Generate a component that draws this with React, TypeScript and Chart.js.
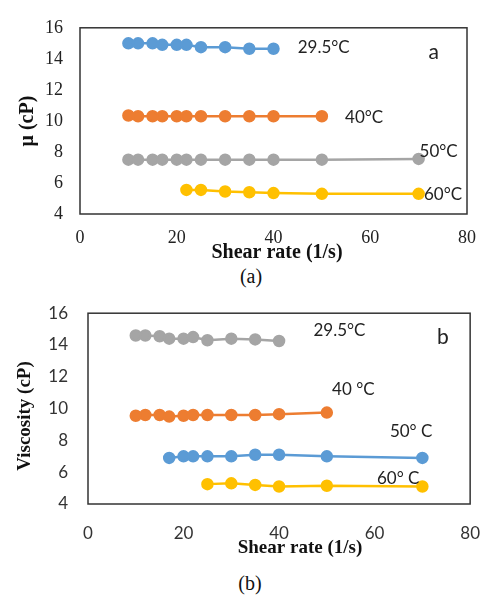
import React, { useEffect, useRef } from "react";
import { Chart, registerables } from "chart.js";

Chart.register(...registerables);

// ---------- Data: panel (a) ----------
const shearA29 = [10, 12, 15, 17, 20, 22, 25, 30, 35, 40];
const muA29 = [15.0, 15.0, 15.0, 14.9, 14.9, 14.9, 14.75, 14.75, 14.65, 14.65];
const shearA40 = [10, 12, 15, 17, 20, 22, 25, 30, 35, 40, 50];
const muA40 = [10.35, 10.3, 10.3, 10.3, 10.3, 10.3, 10.3, 10.3, 10.3, 10.3, 10.3];
const shearA50 = [10, 12, 15, 17, 20, 22, 25, 30, 35, 40, 50, 70];
const muA50 = [7.5, 7.5, 7.5, 7.5, 7.5, 7.5, 7.5, 7.5, 7.5, 7.5, 7.5, 7.55];
const shearA60 = [22, 25, 30, 35, 40, 50, 70];
const muA60 = [5.55, 5.55, 5.45, 5.4, 5.35, 5.3, 5.3];

// ---------- Data: panel (b) ----------
const shearB29 = [10, 12, 15, 17, 20, 22, 25, 30, 35, 40];
const viscB29 = [14.6, 14.6, 14.55, 14.4, 14.4, 14.5, 14.3, 14.4, 14.35, 14.25];
const shearB40 = [10, 12, 15, 17, 20, 22, 25, 30, 35, 40, 50];
const viscB40 = [9.55, 9.6, 9.6, 9.5, 9.55, 9.6, 9.6, 9.6, 9.6, 9.65, 9.75];
const shearB50 = [17, 20, 22, 25, 30, 35, 40, 50, 70];
const viscB50 = [6.9, 7.0, 7.0, 7.0, 7.0, 7.1, 7.1, 7.0, 6.9];
const shearB60 = [25, 30, 35, 40, 50, 70];
const viscB60 = [5.25, 5.3, 5.2, 5.1, 5.15, 5.1];

// ---------- Labels ----------
const xTitle = "Shear rate (1/s)";
const yTitleA = "\u03bc (cP)";
const yTitleB = "Viscosity (cP)";
const seriesLabelsA = ["29.5°C", "40°C", "50°C", "60°C"];
const seriesLabelsB = ["29.5°C", "40 °C", "50° C", "60° C"];

const BLUE = "#5B9BD5";
const ORANGE = "#ED7D31";
const GRAY = "#A5A5A5";
const YELLOW = "#FFC000";

const SERIF = "'Liberation Serif', 'Times New Roman', serif";
const SANS = "Lato, 'Liberation Sans', sans-serif";

function toXY(xs: number[], ys: number[]) {
  return xs.map((x, i) => ({ x, y: ys[i] }));
}

function ds(label: string, xs: number[], ys: number[], color: string) {
  return {
    label,
    data: toXY(xs, ys),
    borderColor: color,
    backgroundColor: color,
    pointBackgroundColor: color,
    pointBorderColor: color,
    pointRadius: 5,
    pointHoverRadius: 5,
    borderWidth: 2.5,
    tension: 0,
    showLine: true,
  };
}

type Note = { text: string; x: number; y: number; font: string; align: CanvasTextAlign };
type Title = { text: string; x: number; y: number; font: string; rot: number };

function makeDeco(notes: Note[], titles: Title[]) {
  return {
    id: "deco",
    afterDraw(chart: any) {
      const { ctx, chartArea: a, scales } = chart;
      ctx.save();
      ctx.strokeStyle = "#333";
      ctx.lineWidth = 1.5;
      ctx.strokeRect(a.left, a.top, a.right - a.left, a.bottom - a.top);
      ctx.fillStyle = "#222";
      ctx.textBaseline = "middle";
      for (const n of notes) {
        ctx.font = n.font;
        ctx.textAlign = n.align;
        ctx.fillText(n.text, scales.x.getPixelForValue(n.x), scales.y.getPixelForValue(n.y));
      }
      for (const t of titles) {
        ctx.save();
        ctx.translate(t.x, t.y);
        ctx.rotate(t.rot);
        ctx.font = t.font;
        ctx.textAlign = "center";
        ctx.fillStyle = "#111";
        ctx.fillText(t.text, 0, 0);
        ctx.restore();
      }
      ctx.restore();
    },
  };
}

type PanelProps = {
  width: number;
  height: number;
  datasets: any[];
  padTop: number;
  padRight: number;
  yWidth: number;
  xHeight: number;
  tickFont: any;
  tickColor: string;
  yPad: number;
  xPad: number;
  notes: Note[];
  titles: Title[];
};

function Panel(p: PanelProps) {
  const ref = useRef<HTMLCanvasElement | null>(null);
  useEffect(() => {
    if (!ref.current) return;
    const chart = new Chart(ref.current, {
      type: "line",
      data: { datasets: p.datasets },
      options: {
        responsive: false,
        animation: false,
        layout: { padding: { top: p.padTop, right: p.padRight, left: 0, bottom: 0 } },
        plugins: { legend: { display: false }, tooltip: { enabled: false } },
        scales: {
          x: {
            type: "linear",
            min: 0,
            max: 80,
            grid: { display: false, drawTicks: false },
            border: { display: false },
            ticks: { stepSize: 20, font: p.tickFont, color: p.tickColor, padding: p.xPad },
            afterFit: (s: any) => {
              s.height = p.xHeight;
            },
          },
          y: {
            min: 4,
            max: 16,
            grid: { display: false, drawTicks: false },
            border: { display: false },
            ticks: { stepSize: 2, font: p.tickFont, color: p.tickColor, padding: p.yPad },
            afterFit: (s: any) => {
              s.width = p.yWidth;
            },
          },
        },
      } as any,
      plugins: [makeDeco(p.notes, p.titles)],
    });
    return () => chart.destroy();
  }, []);
  return <canvas ref={ref} width={p.width} height={p.height} style={{ display: "block" }} />;
}

export default function App() {
  const datasetsA = [
    ds(seriesLabelsA[0], shearA29, muA29, BLUE),
    ds(seriesLabelsA[1], shearA40, muA40, ORANGE),
    ds(seriesLabelsA[2], shearA50, muA50, GRAY),
    ds(seriesLabelsA[3], shearA60, muA60, YELLOW),
  ];
  const datasetsB = [
    ds(seriesLabelsB[0], shearB29, viscB29, GRAY),
    ds(seriesLabelsB[1], shearB40, viscB40, ORANGE),
    ds(seriesLabelsB[2], shearB50, viscB50, BLUE),
    ds(seriesLabelsB[3], shearB60, viscB60, YELLOW),
  ];
  const noteFont = `17px ${SANS}`;
  const notesA: Note[] = [
    { text: seriesLabelsA[0], x: 45, y: 14.75, font: noteFont, align: "left" },
    { text: seriesLabelsA[1], x: 54.8, y: 10.25, font: noteFont, align: "left" },
    { text: seriesLabelsA[2], x: 70.2, y: 8.0, font: noteFont, align: "left" },
    { text: seriesLabelsA[3], x: 71.1, y: 5.28, font: noteFont, align: "left" },
    { text: "a", x: 73.1, y: 14.45, font: `21px ${SANS}`, align: "center" },
  ];
  const notesB: Note[] = [
    { text: seriesLabelsB[0], x: 47.2, y: 14.9, font: noteFont, align: "left" },
    { text: seriesLabelsB[1], x: 51.1, y: 11.23, font: noteFont, align: "left" },
    { text: seriesLabelsB[2], x: 63.2, y: 8.53, font: noteFont, align: "left" },
    { text: seriesLabelsB[3], x: 60.5, y: 5.61, font: noteFont, align: "left" },
    { text: "b", x: 74.3, y: 14.5, font: `21px ${SANS}`, align: "center" },
  ];
  const titlesA: Title[] = [
    { text: xTitle, x: 277, y: 253, font: `bold 20px ${SERIF}`, rot: 0 },
    { text: yTitleA, x: 28, y: 121, font: `bold 20px ${SERIF}`, rot: -Math.PI / 2 },
  ];
  const titlesB: Title[] = [
    { text: xTitle, x: 300, y: 265, font: `bold 19px ${SERIF}`, rot: 0 },
    { text: yTitleB, x: 25, y: 133, font: `bold 19px ${SERIF}`, rot: -Math.PI / 2 },
  ];
  return (
    <div style={{ position: "fixed", left: 0, top: 0, width: 499, height: 597, background: "#fff" }}>
      <div style={{ position: "absolute", left: 0, top: 0 }}>
        <Panel
          width={499}
          height={265}
          datasets={datasetsA}
          padTop={14}
          padRight={32}
          yWidth={80}
          xHeight={51}
          tickFont={{ family: SERIF, size: 18 }}
          tickColor="#222"
          yPad={17}
          xPad={13}
          notes={notesA}
          titles={titlesA}
        />
      </div>
      <div
        style={{
          position: "absolute",
          left: 251,
          top: 265,
          transform: "translateX(-50%)",
          font: `20px ${SERIF}`,
          lineHeight: "22px",
          color: "#111",
        }}
      >
        (a)
      </div>
      <div style={{ position: "absolute", left: 0, top: 283 }}>
        <Panel
          width={499}
          height={282}
          datasets={datasetsB}
          padTop={12}
          padRight={21}
          yWidth={88}
          xHeight={61}
          tickFont={{ family: SANS, size: 17 }}
          tickColor="#333"
          yPad={20}
          xPad={19}
          notes={notesB}
          titles={titlesB}
        />
      </div>
      <div
        style={{
          position: "absolute",
          left: 250,
          top: 572,
          transform: "translateX(-50%)",
          font: `20px ${SERIF}`,
          lineHeight: "22px",
          color: "#111",
        }}
      >
        (b)
      </div>
    </div>
  );
}
